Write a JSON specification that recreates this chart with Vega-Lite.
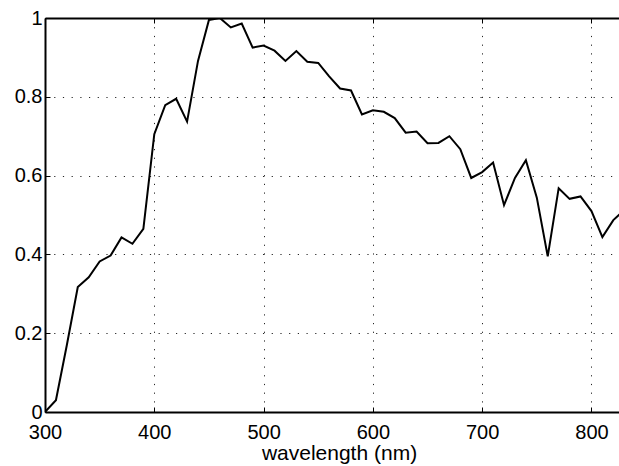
{
  "$schema": "https://vega.github.io/schema/vega-lite/v6.json",
  "autosize": "none",
  "padding": {"left": 45, "top": 18, "right": 0, "bottom": 54},
  "width": 574,
  "height": 394,
  "background": "white",
  "config": {
    "view": {"stroke": null},
    "axis": {
      "labelFont": "Liberation Sans",
      "titleFont": "Liberation Sans",
      "labelFontSize": 20,
      "titleFontSize": 21,
      "titleFontWeight": "normal",
      "labelColor": "black",
      "titleColor": "black",
      "labelFlush": false,
      "labelOverlap": false,
      "domainColor": "black",
      "domainWidth": 2,
      "tickColor": "black",
      "tickWidth": 1,
      "tickSize": -5,
      "gridColor": "black",
      "gridOpacity": 0.85,
      "gridWidth": 1,
      "gridDash": [1.2, 7.5]
    }
  },
  "data": {
    "values": [
      {"wavelength": 300, "response": 0.0},
      {"wavelength": 310, "response": 0.03},
      {"wavelength": 320, "response": 0.17},
      {"wavelength": 330, "response": 0.317},
      {"wavelength": 340, "response": 0.342},
      {"wavelength": 350, "response": 0.382},
      {"wavelength": 360, "response": 0.397},
      {"wavelength": 370, "response": 0.443},
      {"wavelength": 380, "response": 0.427},
      {"wavelength": 390, "response": 0.465},
      {"wavelength": 400, "response": 0.705},
      {"wavelength": 410, "response": 0.779},
      {"wavelength": 420, "response": 0.795},
      {"wavelength": 430, "response": 0.737},
      {"wavelength": 440, "response": 0.891},
      {"wavelength": 450, "response": 0.995},
      {"wavelength": 460, "response": 1.0},
      {"wavelength": 470, "response": 0.976},
      {"wavelength": 480, "response": 0.986},
      {"wavelength": 490, "response": 0.925},
      {"wavelength": 500, "response": 0.93},
      {"wavelength": 510, "response": 0.917},
      {"wavelength": 520, "response": 0.891},
      {"wavelength": 530, "response": 0.916},
      {"wavelength": 540, "response": 0.889},
      {"wavelength": 550, "response": 0.886},
      {"wavelength": 560, "response": 0.852},
      {"wavelength": 570, "response": 0.821},
      {"wavelength": 580, "response": 0.816},
      {"wavelength": 590, "response": 0.755},
      {"wavelength": 600, "response": 0.766},
      {"wavelength": 610, "response": 0.762},
      {"wavelength": 620, "response": 0.746},
      {"wavelength": 630, "response": 0.709},
      {"wavelength": 640, "response": 0.712},
      {"wavelength": 650, "response": 0.682},
      {"wavelength": 660, "response": 0.683},
      {"wavelength": 670, "response": 0.7},
      {"wavelength": 680, "response": 0.667},
      {"wavelength": 690, "response": 0.594},
      {"wavelength": 700, "response": 0.609},
      {"wavelength": 710, "response": 0.633},
      {"wavelength": 720, "response": 0.525},
      {"wavelength": 730, "response": 0.594},
      {"wavelength": 740, "response": 0.639},
      {"wavelength": 750, "response": 0.544},
      {"wavelength": 760, "response": 0.395},
      {"wavelength": 770, "response": 0.568},
      {"wavelength": 780, "response": 0.541},
      {"wavelength": 790, "response": 0.547},
      {"wavelength": 800, "response": 0.51},
      {"wavelength": 810, "response": 0.444},
      {"wavelength": 820, "response": 0.487},
      {"wavelength": 830, "response": 0.513}
    ]
  },
  "layer": [
    {
      "mark": {"type": "line", "color": "black", "strokeWidth": 2, "clip": true},
      "encoding": {
        "x": {
          "field": "wavelength",
          "type": "quantitative",
          "scale": {"domain": [300, 825.2], "nice": false, "zero": false},
          "axis": {
            "orient": "bottom",
            "title": "wavelength (nm)",
            "values": [300, 400, 500, 600, 700, 800],
            "format": "d",
            "grid": true,
            "labelPadding": 15,
            "titlePadding": 0,
            "titleX": 294
          }
        },
        "y": {
          "field": "response",
          "type": "quantitative",
          "scale": {"domain": [0, 1], "nice": false},
          "axis": {
            "orient": "left",
            "title": null,
            "values": [0, 0.2, 0.4, 0.6, 0.8, 1],
            "format": "~g",
            "grid": true,
            "labelPadding": 8
          }
        }
      }
    },
    {
      "mark": {"type": "point", "opacity": 0, "clip": true},
      "encoding": {
        "x": {
          "field": "wavelength",
          "type": "quantitative",
          "axis": {
            "orient": "top",
            "title": null,
            "labels": false,
            "grid": false,
            "values": [300, 400, 500, 600, 700, 800]
          }
        },
        "y": {"field": "response", "type": "quantitative"}
      }
    }
  ],
  "resolve": {"axis": {"x": "independent"}}
}
